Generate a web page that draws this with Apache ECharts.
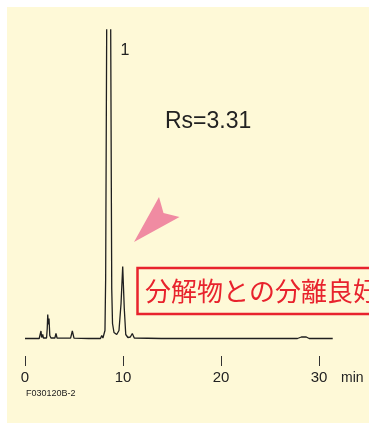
<!DOCTYPE html>
<html>
<head>
<meta charset="utf-8">
<script src="https://cdn.jsdelivr.net/npm/echarts@6/dist/echarts.min.js"></script>
<style>
html,body{margin:0;padding:0;background:#fff;}
#chart{width:369px;height:424px;}
</style>
</head>
<body>
<div id="chart"></div>
<script>
// Retention time (min) of each chromatogram point
const times = [0, 1.45, 1.55, 1.63, 1.70, 1.76, 1.81, 1.88, 2.20, 2.27, 2.32, 2.38, 2.45, 2.53, 2.65,
  3.05, 3.16, 3.27, 4.65, 4.83, 5.00, 6.50, 6.63, 6.76, 7.70, 7.83, 7.95, 8.09, 8.16, 8.23, 8.34,
  8.54, 8.74, 8.85, 8.93, 9.08, 9.36, 9.59, 9.80, 9.97, 10.13, 10.28, 10.50, 10.75, 10.95, 11.15,
  13.90, 14.10, 14.30, 27.80, 28.20, 28.40, 28.70, 29.00, 31.40];
// Detector signal (arbitrary units, main peak is off scale)
const signal = [0, 0, 2, 7.5, 1, 1, 4, 0.5, 0.5, 10, 24, 14, 20, 3, 0.5,
  0.5, 5, 0.5, 0.3, 7.5, 0.3, 0, 1.5, 0, 0, 3, 0.5, 0.5, 8, 60, 320,
  2500, 320, 50, 15, 6, 4, 8, 35, 72, 30, 4, 1, 1.5, 5, 0.5,
  0, 1, 0, 0, 1.5, 2.5, 1.5, 0, 0];
const tickValues = [0, 10, 20, 30];
const axisUnit = 'min';
const peakLabel = '1';
const resolutionLabel = 'Rs=3.31';
const noteText = '分解物との分離良好';
const figureId = 'F030120B-2';

const cream = '#FEF9D7';
const red = '#E8232D';
const latin = '"Liberation Sans", Arial, sans-serif';

const chart = echarts.init(document.getElementById('chart'), null, {renderer: 'canvas'});
chart.setOption({
  animation: false,
  backgroundColor: '#ffffff',
  grid: {left: 25, top: 30, width: 9.8 * 32, height: 326},
  xAxis: {
    type: 'value', min: 0, max: 32,
    axisLine: {show: false, onZero: false},
    splitLine: {show: false},
    axisTick: {show: true, length: 10, inside: false, customValues: tickValues,
      lineStyle: {color: '#333', width: 1}},
    axisLabel: {customValues: tickValues, fontSize: 15, margin: 14, color: '#222', fontFamily: latin}
  },
  yAxis: {type: 'value', min: -17.5, max: 308.5, show: false},
  series: [{
    type: 'line',
    data: times.map((t, i) => [t, signal[i]]),
    symbol: 'none',
    clip: true,
    lineStyle: {color: '#1f1f1f', width: 1.3},
    z: 5
  }],
  graphic: [
    {type: 'rect', z: -100, silent: true, shape: {x: 7, y: 7, width: 362, height: 416}, style: {fill: cream}},
    {type: 'polygon', z: 10, shape: {points: [[134, 242], [159, 197], [163.5, 213], [179.5, 217]]},
      style: {fill: '#F08BA2'}},
    {type: 'rect', z: 10, shape: {x: 137.5, y: 268, width: 250, height: 46},
      style: {fill: cream, stroke: red, lineWidth: 2.5}},
    {type: 'text', z: 11, x: 145, y: 291, style: {text: noteText, fill: red, fontSize: 26,
      fontFamily: '"Noto Sans CJK JP", sans-serif', align: 'left', verticalAlign: 'middle'}},
    {type: 'text', z: 11, x: 125, y: 51, style: {text: peakLabel, fill: '#222', fontSize: 16,
      fontFamily: latin, align: 'center', verticalAlign: 'middle'}},
    {type: 'text', z: 11, x: 165, y: 122, style: {text: resolutionLabel, fill: '#222', fontSize: 23,
      fontFamily: latin, align: 'left', verticalAlign: 'middle'}},
    {type: 'text', z: 11, x: 341, y: 378, style: {text: axisUnit, fill: '#222', fontSize: 14,
      fontFamily: latin, align: 'left', verticalAlign: 'middle'}},
    {type: 'text', z: 11, x: 26, y: 394, style: {text: figureId, fill: '#222', fontSize: 9,
      fontFamily: latin, align: 'left', verticalAlign: 'middle'}}
  ]
});
</script>
</body>
</html>
